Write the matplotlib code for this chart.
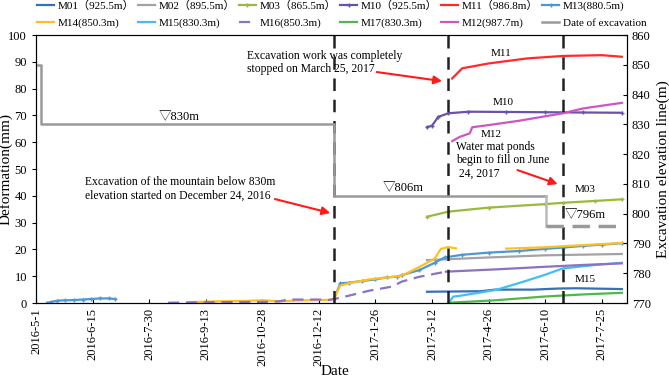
import numpy as np
import pandas as pd
import matplotlib
matplotlib.use("Agg")
import matplotlib.pyplot as plt

plt.rcParams["font.family"] = ["Liberation Serif", "Noto Sans CJK SC"]
plt.rcParams["font.size"] = 9

# ---------------------------------------------------------------------
# dados (deformacao em mm, cota em m)
# ---------------------------------------------------------------------
m13_a_datas = ["2016-05-10", "2016-05-13", "2016-05-18", "2016-05-24", "2016-05-31",
               "2016-06-07", "2016-06-14", "2016-06-21", "2016-06-28", "2016-07-03"]
m13_a_vals = [0.1, 0.4, 0.9, 1.0, 1.1, 1.3, 1.5, 1.7, 1.7, 1.5]

m13_b_datas = ["2016-12-24", "2016-12-29", "2017-01-05", "2017-01-15", "2017-01-26",
               "2017-02-04", "2017-02-12", "2017-02-16", "2017-03-02", "2017-03-14",
               "2017-03-22", "2017-04-05", "2017-04-26", "2017-05-20", "2017-06-10",
               "2017-06-24", "2017-07-10", "2017-07-25", "2017-08-10"]
m13_b_vals = [1.5, 7.3, 7.6, 8.2, 8.8, 9.6, 9.8, 10.4, 12.3, 15.0,
              17.0, 18.0, 18.8, 19.4, 20.2, 20.7, 21.3, 21.8, 22.3]

m14_datas = ["2016-08-30", "2016-09-20", "2016-10-15", "2016-10-28", "2016-11-10",
             "2016-12-01", "2016-12-20", "2016-12-24", "2016-12-29", "2017-01-05",
             "2017-01-21", "2017-02-05", "2017-02-14", "2017-02-20", "2017-03-02",
             "2017-03-14", "2017-03-19", "2017-03-25", "2017-03-31"]
m14_vals = [0.3, 0.6, 0.8, 1.0, 0.7, 1.0, 1.2, 1.6, 6.5, 7.4,
            8.8, 9.6, 10.0, 11.1, 13.5, 16.5, 20.2, 20.9, 20.4]
m14_c_datas = ["2017-05-10", "2017-06-10", "2017-07-10", "2017-08-10"]
m14_c_vals = [20.3, 20.8, 21.6, 22.4]

m16_datas = ["2016-08-14", "2016-09-13", "2016-10-28", "2016-11-10", "2016-11-18",
             "2016-12-10", "2016-12-20", "2016-12-24", "2017-01-01", "2017-01-21",
             "2017-02-08", "2017-02-16", "2017-03-02", "2017-03-23"]
m16_vals = [0.1, 0.3, 0.4, 0.6, 1.3, 1.3, 1.1, 1.5, 2.3, 4.6,
            6.1, 8.0, 9.8, 11.7]
m16_c_datas = ["2017-03-23", "2017-05-04", "2017-06-09", "2017-07-10", "2017-08-10"]
m16_c_vals = [11.7, 12.6, 13.5, 14.2, 14.8]

m02_datas = ["2017-03-08", "2017-04-26", "2017-06-10", "2017-08-10"]
m02_vals = [16.0, 17.0, 17.8, 18.3]

m01_datas = ["2017-03-08", "2017-04-20", "2017-05-01", "2017-06-01", "2017-06-20",
             "2017-07-05", "2017-08-10"]
m01_vals = [4.2, 4.4, 5.0, 5.0, 5.4, 5.5, 5.2]

m15_datas = ["2017-03-25", "2017-03-27", "2017-03-29", "2017-04-02", "2017-05-02",
             "2017-05-24", "2017-06-09", "2017-06-24", "2017-07-20", "2017-08-10"]
m15_vals = [0.0, 1.2, 2.4, 2.6, 4.9, 8.0, 10.4, 12.9, 14.2, 15.0]

m17_datas = ["2017-03-25", "2017-05-01", "2017-06-09", "2017-07-10", "2017-08-10"]
m17_vals = [0.1, 1.0, 2.4, 3.2, 3.8]

m03_datas = ["2017-03-08", "2017-03-25", "2017-04-26", "2017-06-10", "2017-06-24",
             "2017-07-20", "2017-08-10"]
m03_vals = [32.2, 34.1, 35.6, 36.9, 37.4, 38.1, 38.7]

m10_datas = ["2017-03-08", "2017-03-12", "2017-03-17", "2017-03-25", "2017-04-10",
             "2017-05-10", "2017-06-10", "2017-07-10", "2017-08-10"]
m10_vals = [65.6, 66.2, 69.5, 70.8, 71.4, 71.3, 71.2, 71.1, 71.0]

m11_datas = ["2017-03-28", "2017-04-05", "2017-04-26", "2017-05-27", "2017-06-24",
             "2017-07-25", "2017-08-10"]
m11_vals = [83.8, 87.6, 89.4, 91.3, 92.2, 92.5, 91.9]

m12_datas = ["2017-03-28", "2017-04-03", "2017-04-11", "2017-04-13", "2017-04-26",
             "2017-05-20", "2017-06-24", "2017-07-10", "2017-08-10"]
m12_vals = [60.4, 62.0, 63.3, 65.6, 66.4, 68.0, 70.8, 72.6, 74.7]

# cota de escavacao (eixo da direita)
exc_datas = ["2016-05-01", "2016-05-05", "2016-05-05", "2016-12-24", "2016-12-24", "2017-06-11"]
exc_vals = [850, 850, 830, 830, 806, 806]
exc_b_datas = ["2017-06-11", "2017-06-11", "2017-08-12"]
exc_b_vals = [806, 796, 796]

eventos = ["2016-12-24", "2017-03-25", "2017-06-24"]

ticks_x = ["2016-5-1", "2016-6-15", "2016-7-30", "2016-9-13", "2016-10-28", "2016-12-12",
           "2017-1-26", "2017-3-12", "2017-4-26", "2017-6-10", "2017-7-25"]

D = pd.to_datetime

fig = plt.figure(figsize=(6.69, 3.79), dpi=100)
ax = fig.add_axes([0.054, 0.2005, 0.883, 0.707])
ax2 = ax.twinx()

C = {"M01": "#3570b8", "M02": "#a3a3a3", "M03": "#9ab93e", "M10": "#6a52a8",
     "M11": "#ff2a2a", "M13": "#4b98d6", "M14": "#ffbf1f", "M15": "#3fc0f0",
     "M16": "#8a72c4", "M17": "#4fb848", "M12": "#d055c0", "EXC": "#999999"}

h = {}
h["M01"], = ax.plot(D(m01_datas), m01_vals, color=C["M01"], lw=1.6, label="M01（925.5m）")
h["M02"], = ax.plot(D(m02_datas), m02_vals, color=C["M02"], lw=1.6, label="M02（895.5m）")
h["M03"], = ax.plot(D(m03_datas), m03_vals, color=C["M03"], lw=1.6, marker="+", ms=3,
                    label="M03（865.5m）")
h["M10"], = ax.plot(D(m10_datas), m10_vals, color=C["M10"], lw=1.6, marker="+", ms=3,
                    label="M10（925.5m）")
h["M11"], = ax.plot(D(m11_datas), m11_vals, color=C["M11"], lw=1.6, label="M11（986.8m）")
ax.plot(D(m13_a_datas), m13_a_vals, color=C["M13"], lw=1.6, marker="+", ms=3)
h["M13"], = ax.plot(D(m13_b_datas), m13_b_vals, color=C["M13"], lw=1.6, marker="+", ms=3,
                    label="M13(880.5m)")
h["M14"], = ax.plot(D(m14_datas), m14_vals, color=C["M14"], lw=1.6, label="M14(850.3m)")
ax.plot(D(m14_c_datas), m14_c_vals, color=C["M14"], lw=1.6)
h["M15"], = ax.plot(D(m15_datas), m15_vals, color=C["M15"], lw=1.6, label="M15(830.3m)")
h["M16"], = ax.plot(D(m16_datas), m16_vals, color=C["M16"], lw=1.6, ls=(0, (5, 3)),
                    label="M16(850.3m)")
ax.plot(D(m16_c_datas), m16_c_vals, color=C["M16"], lw=1.6)
h["M17"], = ax.plot(D(m17_datas), m17_vals, color=C["M17"], lw=1.6, label="M17(830.3m)")
h["M12"], = ax.plot(D(m12_datas), m12_vals, color=C["M12"], lw=1.6, label="M12(987.7m)")

h["EXC"], = ax2.plot(D(exc_datas), exc_vals, color=C["EXC"], lw=1.8, label="Date of excavation")
ax2.plot(D(exc_b_datas[:2]), exc_b_vals[:2], color="#bbbbbb", lw=1.8)
ax2.plot(D(exc_b_datas[1:]), exc_b_vals[1:], color=C["EXC"], lw=2.5, ls=(0, (5, 2.5)))

for ev in eventos:
    ax.plot([D(ev), D(ev)], [0, 100], color="#222222", lw=1.8, ls=(0, (5, 3.5)))

# eixos
ax.set_xlim(D("2016-05-01"), D("2017-08-14"))
ax.set_ylim(0, 100)
ax2.set_ylim(770, 860)
ax.set_yticks(np.arange(0, 101, 10))
ax2.set_yticks(np.arange(770, 861, 10))
ax.set_xticks(D(ticks_x))
ax.set_xticklabels(ticks_x, rotation=90)
ax.tick_params(axis="x", direction="in", length=3)
ax.tick_params(axis="y", direction="out", length=3)
ax2.tick_params(axis="y", direction="in", length=3)
ax.set_xlabel("Date", fontsize=11, va="center")
ax.set_ylabel("Deformation(mm)", fontsize=11)
ax2.set_ylabel("Excavation elevation line(m)", fontsize=11)
ax.xaxis.set_label_coords(0.506, -0.257)
ax.yaxis.set_label_coords(-0.04, 0.5)
ax2.yaxis.set_label_coords(1.051, 0.5)

# rotulos das curvas
ax.text(D("2017-05-06"), 93.3, "M11", ha="center", va="center", fontsize=8)
ax.text(D("2017-05-08"), 74.7, "M10", ha="center", va="center", fontsize=8)
ax.text(D("2017-04-28"), 63.0, "M12", ha="center", va="center", fontsize=8)
ax.text(D("2017-07-12"), 42.5, "M03", ha="center", va="center", fontsize=8)
ax.text(D("2017-07-12"), 8.6, "M15", ha="center", va="center", fontsize=8)
ax2.text(D("2016-08-23"), 832.5, "▽830m", ha="center", va="center", fontsize=9)
ax2.text(D("2017-02-17"), 808.5, "▽806m", ha="center", va="center", fontsize=9)
ax2.text(D("2017-07-12"), 799.5, "▽796m", ha="center", va="center", fontsize=9)

# anotacoes com setas vermelhas
seta = dict(arrowstyle="-|>", color="#ff1a1a", lw=1.5, mutation_scale=12,
            shrinkA=0, shrinkB=0)
ax.text(D("2016-10-16"), 89.7, "Excavation work was completely\nstopped on March 25, 2017",
        ha="left", va="center", fontsize=8.4, linespacing=1.15)
ax.annotate("", xy=(D("2017-03-20"), 82.8), xytext=(D("2017-01-27"), 86.2), arrowprops=seta)
ax.text(D("2016-06-09"), 42.5, "Excavation of the mountain below 830m\n"
        "elevation started on December 24, 2016",
        ha="left", va="center", fontsize=8.4, linespacing=1.15)
ax.annotate("", xy=(D("2016-12-21"), 33.6), xytext=(D("2016-11-07"), 38.8), arrowprops=seta)
ax.text(D("2017-03-31"), 53.4, "Water mat ponds\nbegin to fill on June\n 24, 2017",
        ha="left", va="center", fontsize=8.4, linespacing=1.15)
ax.annotate("", xy=(D("2017-06-20"), 44.4), xytext=(D("2017-05-19"), 49.6), arrowprops=seta)

# legenda em duas linhas (ordem por coluna)
ordem = ["M01", "M14", "M02", "M15", "M03", "M16", "M10", "M17", "M11", "M12", "M13", "EXC"]
fig.legend([h[k] for k in ordem], [h[k].get_label() for k in ordem],
           loc="upper left", bbox_to_anchor=(36 / 669, 1.0), ncol=6, frameon=False,
           fontsize=8, handlelength=1.6, handletextpad=0.3, columnspacing=0.3,
           labelspacing=0.6, borderpad=0.05, borderaxespad=0.0)

fig.savefig("out.png", dpi=100)
